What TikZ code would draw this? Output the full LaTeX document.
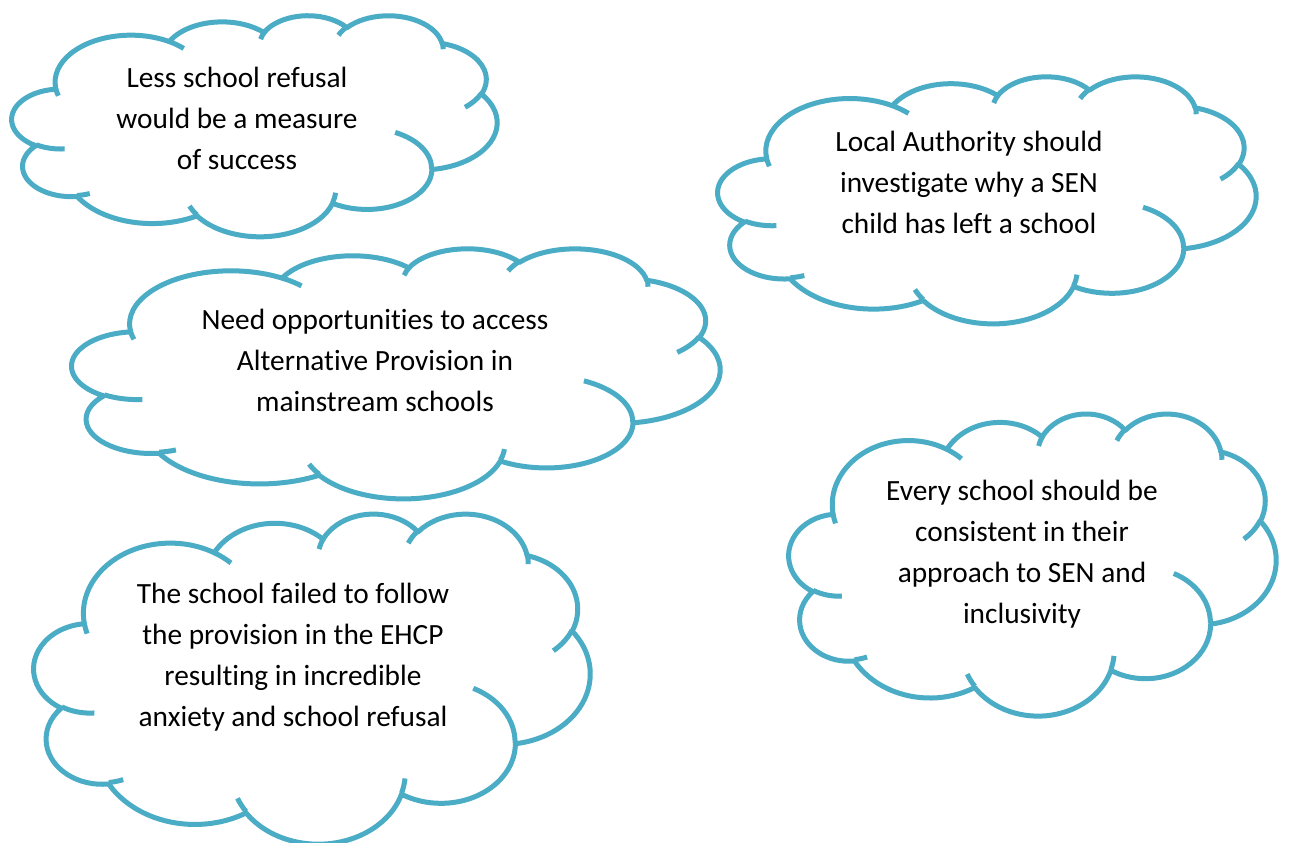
\documentclass[tikz,border=0pt]{standalone}
\usepackage{fontspec}
\setmainfont[Ligatures={NoCommon}]{Carlito}
\definecolor{cloudblue}{HTML}{4BACC6}
% DrawingML arcTo uses visual angles; convert to parametric angles for TikZ
\newcommand\cloudarcdef[6]{%
  \pgfmathsetmacro\cloudtmpS{atan2(sin(#5)*#3, cos(#5)*#4)}%
  \pgfmathsetmacro\cloudtmpE{atan2(sin(#5+#6)*#3, cos(#5+#6)*#4)}%
  \pgfmathsetmacro\cloudtmpD{\cloudtmpE-\cloudtmpS}%
  \pgfmathsetmacro\cloudtmpD{\cloudtmpD<0 ? \cloudtmpD+360 : \cloudtmpD}%
  \xdef#1{\cloudtmpS}\xdef#2{\cloudtmpD}}
\cloudarcdef\clAs\clAd{67.53}{91.90}{-190.487483}{123.780533}
\cloudarcdef\clBs\clBd{53.33}{72.67}{-144.102383}{89.945233}
\cloudarcdef\clCs\clCd{43.65}{59.45}{-145.807917}{99.723017}
\cloudarcdef\clDs\clDd{48.57}{65.95}{-130.986067}{117.241733}
\cloudarcdef\clEs\clEd{53.33}{72.73}{-78.708883}{109.026917}
\cloudarcdef\clFs\clFd{67.75}{92.20}{-46.26725}{130.269}
\cloudarcdef\clGs\clGd{57.85}{78.67}{0.625017}{114.033333}
\cloudarcdef\clHs\clHd{67.52}{92.15}{22.4516}{115.17255}
\cloudarcdef\clIs\clId{77.20}{105.43}{66.242633}{75.711017}
\cloudarcdef\clJs\clJd{43.60}{59.18}{-274.942083}{146.735567}
\cloudarcdef\clKs\clKd{43.45}{59.45}{-246.8285}{152.51885}
\cloudarcdef\clLs\clLd{43.45}{59.45}{86.742}{26.4295}
\cloudarcdef\clMs\clMd{43.60}{59.18}{73.610467}{11.447467}
\cloudarcdef\clNs\clNd{67.52}{92.15}{137.62415}{14.0811}
\cloudarcdef\clOs\clOd{67.52}{92.15}{6.453267}{15.99835}
\cloudarcdef\clPs\clPd{57.85}{78.67}{-70.29235}{70.917367}
\cloudarcdef\clQs\clQd{53.33}{72.73}{30.318033}{27.7515}
\cloudarcdef\clRs\clRd{48.57}{65.95}{-13.744333}{14.8589}
\cloudarcdef\clSs\clSd{48.57}{65.95}{-149.18145}{18.195367}
\cloudarcdef\clTs\clTd{43.65}{59.45}{-163.49427}{17.68635}
\cloudarcdef\clUs\clUd{67.53}{91.90}{-66.70695}{12.31935}
\cloudarcdef\clVs\clVd{67.53}{91.90}{157.65435}{11.858167}
\newcommand\cloudouter{(39.00,143.70)
 arc[start angle=\clAs, delta angle=\clAd, x radius=67.53, y radius=91.90]
 arc[start angle=\clBs, delta angle=\clBd, x radius=53.33, y radius=72.67]
 arc[start angle=\clCs, delta angle=\clCd, x radius=43.65, y radius=59.45]
 arc[start angle=\clDs, delta angle=\clDd, x radius=48.57, y radius=65.95]
 arc[start angle=\clEs, delta angle=\clEd, x radius=53.33, y radius=72.73]
 arc[start angle=\clFs, delta angle=\clFd, x radius=67.75, y radius=92.20]
 arc[start angle=\clGs, delta angle=\clGd, x radius=57.85, y radius=78.67]
 arc[start angle=\clHs, delta angle=\clHd, x radius=67.52, y radius=92.15]
 arc[start angle=\clIs, delta angle=\clId, x radius=77.20, y radius=105.43]
 arc[start angle=\clJs, delta angle=\clJd, x radius=43.60, y radius=59.18]
 arc[start angle=\clKs, delta angle=\clKd, x radius=43.45, y radius=59.45]
 -- cycle}
\newcommand\cloudinner{
 (46.93,261.77) arc[start angle=\clLs, delta angle=\clLd, x radius=43.45, y radius=59.45]
 (69.28,348.99) arc[start angle=\clMs, delta angle=\clMd, x radius=43.60, y radius=59.18]
 (164.78,390.90) arc[start angle=\clNs, delta angle=\clNd, x radius=67.52, y radius=92.15]
 (288.27,347.51) arc[start angle=\clOs, delta angle=\clOd, x radius=67.52, y radius=92.15]
 (341.29,229.54) arc[start angle=\clPs, delta angle=\clPd, x radius=57.85, y radius=78.67]
 (417.98,153.54) arc[start angle=\clQs, delta angle=\clQd, x radius=53.33, y radius=72.73]
 (383.24,54.26) arc[start angle=\clRs, delta angle=\clRd, x radius=48.57, y radius=65.95]
 (290.78,39.52) arc[start angle=\clSs, delta angle=\clSd, x radius=48.57, y radius=65.95]
 (221.41,47.20) arc[start angle=\clTs, delta angle=\clTd, x radius=43.65, y radius=59.45]
 (140.00,51.92) arc[start angle=\clUs, delta angle=\clUd, x radius=67.53, y radius=91.90]
 (41.27,157.89) arc[start angle=\clVs, delta angle=\clVd, x radius=67.53, y radius=91.90]}
\newcommand\cloudtext[1]{\vtop{\halign{\hfil##\hfil\cr#1\crcr}}}
\newcommand\drawcloud[4]{%
  \begin{scope}[shift={(#1,#2)}, xscale=#3/432, yscale=#4/432]
    \draw[cloudline, fill=white] \cloudouter;
    \draw[cloudline] \cloudinner;
  \end{scope}}
\begin{document}
\begin{tikzpicture}[x=0.75pt, y=-0.75pt,
  cloudline/.style={draw=cloudblue, line width=3.75pt, line join=round},
  cloudlabel/.style={anchor=base, inner sep=0pt, text=black,
    font=\fontsize{22}{30.75}\selectfont}]
\fill[white] (0,0) rectangle (1297,843);
\useasboundingbox (0,0) rectangle (1297,843);
\drawcloud{12}{15}{485}{221}
\drawcloud{718}{76}{538}{247}
\drawcloud{72}{248}{648}{250}
\drawcloud{789}{413}{487}{302}
\drawcloud{34}{513}{556}{330}
\node[cloudlabel] (success) at (237,87) {\cloudtext{Less school refusal\cr would be a measure\cr of success}};
\node[cloudlabel] (authority) at (969,151) {\cloudtext{Local Authority should\cr investigate why a SEN\cr child has left a school}};
\node[cloudlabel] (provision) at (375,329) {\cloudtext{Need opportunities to access\cr Alternative Provision in\cr mainstream schools}};
\node[cloudlabel] (consistent) at (1022,500) {\cloudtext{Every school should be\cr consistent in their\cr approach to SEN and\cr inclusivity}};
\node[cloudlabel] (ehcp) at (293,603) {\cloudtext{The school failed to follow\cr the provision in the EHCP\cr resulting in incredible\cr anxiety and school refusal}};
\end{tikzpicture}
\end{document}
